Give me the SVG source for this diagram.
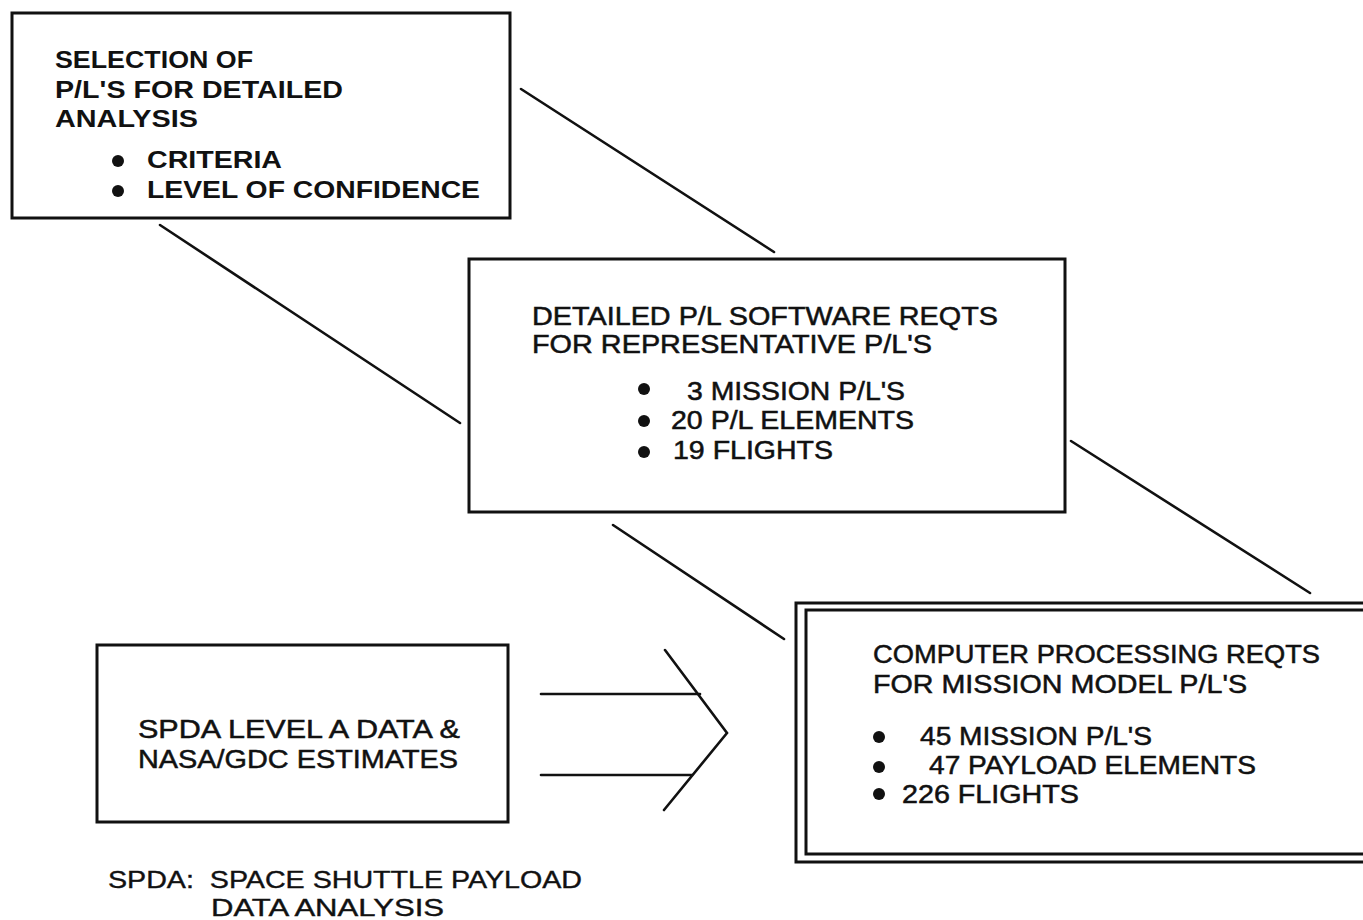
<svg xmlns="http://www.w3.org/2000/svg" width="1363" height="920" viewBox="0 0 1363 920">
<style>
.box{fill:none;stroke:#111;stroke-width:3}
.ln{fill:none;stroke:#111;stroke-width:2.6;stroke-linecap:round}
.t{font-family:"Liberation Sans",Arial,sans-serif;fill:#111}
.b1{font-size:23px;font-weight:bold}
.b2{font-size:25px;stroke:#111;stroke-width:0.5}
.b3{font-size:26px;stroke:#111;stroke-width:0.5}
.fn{font-size:24px;stroke:#111;stroke-width:0.4}
.bul{fill:#111}
</style>
<rect x="0" y="0" width="1363" height="920" fill="#fff"/>
<g id="connectors">
<line class="ln" x1="521" y1="89" x2="774" y2="252"/>
<line class="ln" x1="160" y1="225" x2="460" y2="423"/>
<line class="ln" x1="613" y1="525" x2="784" y2="639"/>
<line class="ln" x1="1071" y1="441" x2="1310" y2="593"/>
<line class="ln" x1="541" y1="694" x2="700" y2="694" stroke-width="3"/>
<line class="ln" x1="541" y1="775" x2="692" y2="775" stroke-width="3"/>
<polyline class="ln" points="665,650 727,733 664,810" stroke-width="3.2"/>
</g>
<g id="node-selection">
<rect class="box" x="12" y="13" width="498" height="205"/>
<text class="t b1" x="55" y="68" textLength="198" lengthAdjust="spacingAndGlyphs">SELECTION OF</text>
<text class="t b1" x="55" y="98" textLength="288" lengthAdjust="spacingAndGlyphs">P/L'S FOR DETAILED</text>
<text class="t b1" x="55" y="127" textLength="143" lengthAdjust="spacingAndGlyphs">ANALYSIS</text>
<circle class="bul" cx="118" cy="161" r="6"/>
<circle class="bul" cx="118" cy="191" r="6"/>
<text class="t b1" x="147" y="168" textLength="135" lengthAdjust="spacingAndGlyphs">CRITERIA</text>
<text class="t b1" x="147" y="198" textLength="333" lengthAdjust="spacingAndGlyphs">LEVEL OF CONFIDENCE</text>
</g>
<g id="node-detailed">
<rect class="box" x="469" y="259" width="596" height="253"/>
<text class="t b2" x="532" y="325" textLength="466" lengthAdjust="spacingAndGlyphs">DETAILED P/L SOFTWARE REQTS</text>
<text class="t b2" x="532" y="353" textLength="400" lengthAdjust="spacingAndGlyphs">FOR REPRESENTATIVE P/L'S</text>
<circle class="bul" cx="644" cy="389" r="6"/>
<circle class="bul" cx="644" cy="421" r="6"/>
<circle class="bul" cx="644" cy="452" r="6"/>
<text class="t b2" x="687" y="400" textLength="218" lengthAdjust="spacingAndGlyphs">3 MISSION P/L'S</text>
<text class="t b2" x="671" y="429" textLength="243" lengthAdjust="spacingAndGlyphs">20 P/L ELEMENTS</text>
<text class="t b2" x="673" y="459" textLength="160" lengthAdjust="spacingAndGlyphs">19 FLIGHTS</text>
</g>
<g id="node-spda">
<rect class="box" x="97" y="645" width="411" height="177"/>
<text class="t b3" x="138" y="738" textLength="322" lengthAdjust="spacingAndGlyphs">SPDA LEVEL A DATA &amp;</text>
<text class="t b3" x="138" y="768" textLength="320" lengthAdjust="spacingAndGlyphs">NASA/GDC ESTIMATES</text>
</g>
<g id="node-computer">
<rect class="box" x="796" y="603" width="600" height="259"/>
<rect class="box" x="806" y="610" width="590" height="244"/>
<text class="t b2" x="873" y="663" textLength="447" lengthAdjust="spacingAndGlyphs">COMPUTER PROCESSING REQTS</text>
<text class="t b2" x="873" y="693" textLength="374" lengthAdjust="spacingAndGlyphs">FOR MISSION MODEL P/L'S</text>
<circle class="bul" cx="879" cy="737" r="6"/>
<circle class="bul" cx="879" cy="767" r="6"/>
<circle class="bul" cx="879" cy="794" r="6"/>
<text class="t b2" x="920" y="745" textLength="232" lengthAdjust="spacingAndGlyphs">45 MISSION P/L'S</text>
<text class="t b2" x="929" y="774" textLength="327" lengthAdjust="spacingAndGlyphs">47 PAYLOAD ELEMENTS</text>
<text class="t b2" x="902" y="803" textLength="177" lengthAdjust="spacingAndGlyphs">226 FLIGHTS</text>
</g>
<g id="footnote">
<text class="t fn" x="108" y="888" textLength="474" lengthAdjust="spacingAndGlyphs" xml:space="preserve">SPDA:  SPACE SHUTTLE PAYLOAD</text>
<text class="t fn" x="211" y="916" textLength="233" lengthAdjust="spacingAndGlyphs">DATA ANALYSIS</text>
</g>
</svg>
